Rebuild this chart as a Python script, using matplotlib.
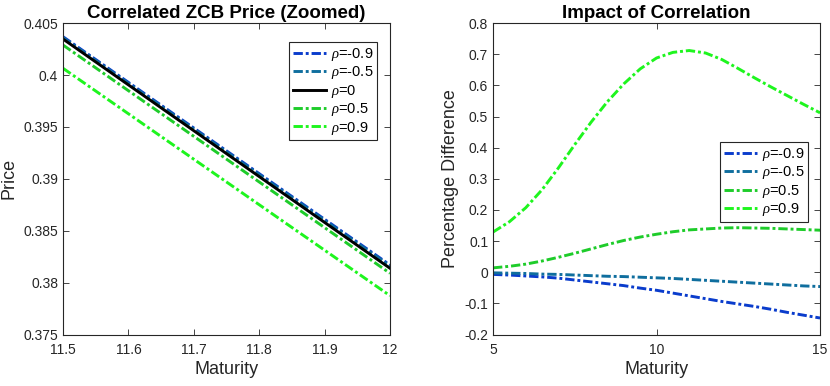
import numpy as np
import matplotlib
matplotlib.use('Agg')
import matplotlib.pyplot as plt

# == Data ==================================================
rho_labels = [r'$\rho$=-0.9', r'$\rho$=-0.5', r'$\rho$=0', r'$\rho$=0.5', r'$\rho$=0.9']

# Left panel: zoomed prices (straight lines between the two ends)
mat_zoom = [11.5, 12.0]
price_m09 = [0.40369, 0.38170]
price_m05 = [0.40360, 0.38160]
price_0 = [0.40347, 0.38138]
price_p05 = [0.40289, 0.38090]
price_p09 = [0.40065, 0.37874]

# Right panel: percentage difference vs rho=0
mat_diff = [5.0, 5.5, 6.0, 6.5, 7.0, 7.5, 8.0, 8.5, 9.0, 9.5, 10.0,
            10.5, 11.0, 11.5, 12.0, 12.5, 13.0, 13.5, 14.0, 14.5, 15.0]
diff_p09 = [0.129, 0.162, 0.207, 0.265, 0.335, 0.410, 0.482, 0.548, 0.605, 0.653, 0.688,
            0.706, 0.712, 0.704, 0.683, 0.654, 0.624, 0.595, 0.567, 0.539, 0.512]
diff_p05 = [0.014, 0.019, 0.026, 0.036, 0.048, 0.061, 0.075, 0.089, 0.102, 0.113, 0.122,
            0.130, 0.136, 0.139, 0.142, 0.143, 0.142, 0.141, 0.139, 0.137, 0.135]
diff_m05 = [-0.002, -0.003, -0.004, -0.006, -0.007, -0.009, -0.011, -0.013, -0.014, -0.016, -0.018,
            -0.020, -0.023, -0.026, -0.029, -0.032, -0.035, -0.038, -0.041, -0.044, -0.046]
diff_m09 = [-0.007, -0.009, -0.012, -0.015, -0.019, -0.025, -0.031, -0.037, -0.043, -0.051, -0.058,
            -0.067, -0.076, -0.085, -0.094, -0.102, -0.110, -0.119, -0.129, -0.138, -0.147]

left_yticks = [0.375, 0.38, 0.385, 0.39, 0.395, 0.4, 0.405]
left_yticklabels = ['0.375', '0.38', '0.385', '0.39', '0.395', '0.4', '0.405']
left_xticks = [11.5, 11.6, 11.7, 11.8, 11.9, 12]
left_xticklabels = ['11.5', '11.6', '11.7', '11.8', '11.9', '12']
right_yticks = [-0.2, -0.1, 0, 0.1, 0.2, 0.3, 0.4, 0.5, 0.6, 0.7, 0.8]
right_yticklabels = ['-0.2', '-0.1', '0', '0.1', '0.2', '0.3', '0.4', '0.5', '0.6', '0.7', '0.8']
right_xticks = [5, 10, 15]

# == Style ==================================================
col_m09 = '#0a3ccc'
col_m05 = '#0f6e9e'
col_p05 = '#1ecc2a'
col_p09 = '#1ef51e'
dashdot = (0, (3.2, 1.0, 1.0, 1.0))
lw = 2.1
txt = '#262626'

plt.rcParams['font.family'] = ['Liberation Sans', 'DejaVu Sans']
plt.rcParams['mathtext.fontset'] = 'custom'
plt.rcParams['mathtext.it'] = 'Liberation Serif:italic'


def style_axes(ax):
    for s in ax.spines.values():
        s.set_color(txt)
        s.set_linewidth(0.8)
    ax.tick_params(direction='in', top=True, right=True, length=4,
                   width=0.6, colors=txt, labelsize=10)
    ax.tick_params(axis='x', pad=6)


def add_legend(ax, anchor):
    leg = ax.legend(loc='upper right', bbox_to_anchor=anchor, fontsize=10.5,
                    fancybox=False, edgecolor=txt, framealpha=1, handlelength=2.3,
                    handletextpad=0.3, borderpad=0.25, labelspacing=0.1,
                    borderaxespad=0)
    leg.get_frame().set_linewidth(0.8)
    return leg


fig = plt.figure(figsize=(8.3, 3.86), dpi=100)

# == Left panel ============================================
ax1 = fig.add_axes([0.0759, 0.1334, 0.394, 0.8067])
ax1.plot(mat_zoom, price_m09, color=col_m09, ls=dashdot, lw=lw, label=rho_labels[0])
ax1.plot(mat_zoom, price_m05, color=col_m05, ls=dashdot, lw=lw, label=rho_labels[1])
ax1.plot(mat_zoom, price_0, color='black', ls='-', lw=lw, label=rho_labels[2])
ax1.plot(mat_zoom, price_p05, color=col_p05, ls=dashdot, lw=lw, label=rho_labels[3])
ax1.plot(mat_zoom, price_p09, color=col_p09, ls=dashdot, lw=lw, label=rho_labels[4])
ax1.set_xlim(11.5, 12)
ax1.set_ylim(0.375, 0.405)
ax1.set_xticks(left_xticks)
ax1.set_xticklabels(left_xticklabels)
ax1.set_yticks(left_yticks)
ax1.set_yticklabels(left_yticklabels)
ax1.set_xlabel('Maturity', fontsize=13, color=txt, labelpad=3)
ax1.set_ylabel('Price', fontsize=13, color=txt, labelpad=4)
ax1.set_title('Correlated ZCB Price (Zoomed)', fontsize=13.5, fontweight='bold', pad=4)
style_axes(ax1)
add_legend(ax1, (0.96, 0.939))

# == Right panel ===========================================
ax2 = fig.add_axes([0.594, 0.1334, 0.394, 0.8067])
ax2.plot(mat_diff, diff_m09, color=col_m09, ls=dashdot, lw=lw, label=rho_labels[0])
ax2.plot(mat_diff, diff_m05, color=col_m05, ls=dashdot, lw=lw, label=rho_labels[1])
ax2.plot(mat_diff, diff_p05, color=col_p05, ls=dashdot, lw=lw, label=rho_labels[3])
ax2.plot(mat_diff, diff_p09, color=col_p09, ls=dashdot, lw=lw, label=rho_labels[4])
ax2.set_xlim(5, 15)
ax2.set_ylim(-0.2, 0.8)
ax2.set_xticks(right_xticks)
ax2.set_yticks(right_yticks)
ax2.set_yticklabels(right_yticklabels)
ax2.set_xlabel('Maturity', fontsize=13, color=txt, labelpad=3)
ax2.set_ylabel('Percentage Difference', fontsize=13, color=txt, labelpad=4)
ax2.set_title('Impact of Correlation', fontsize=13.5, fontweight='bold', pad=4)
style_axes(ax2)
add_legend(ax2, (0.963, 0.618))

fig.savefig('out.png', dpi=100)
